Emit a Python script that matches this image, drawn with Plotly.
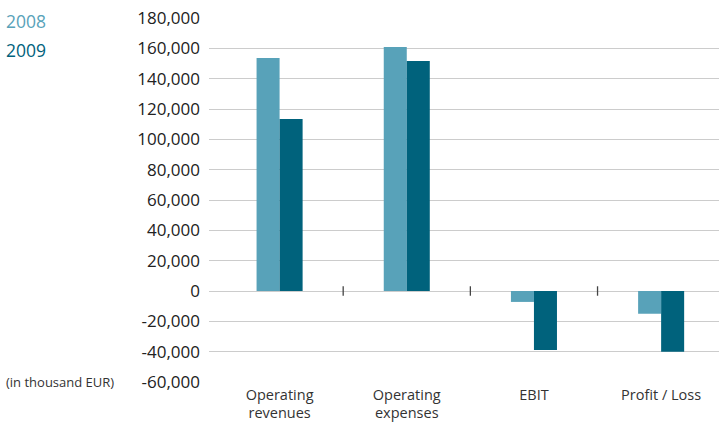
import plotly.graph_objects as go

categories = ["Operating<br>revenues", "Operating<br>expenses", "EBIT", "Profit / Loss"]
values_2008 = [153600, 160900, -7200, -15000]
values_2009 = [113400, 151600, -38900, -40000]
y_ticks = [-60000, -40000, -20000, 0, 20000, 40000, 60000, 80000,
           100000, 120000, 140000, 160000, 180000]

color_2008 = "#58A2B9"
color_2009 = "#00627C"
font_family = "Open Sans, Noto Sans, sans-serif"

fig = go.Figure()
fig.add_trace(go.Bar(name="2008", x=categories, y=values_2008,
                     marker=dict(color=color_2008, line=dict(width=0))))
fig.add_trace(go.Bar(name="2009", x=categories, y=values_2009,
                     marker=dict(color=color_2009, line=dict(width=0))))

# small separators between the categories, sitting on the zero line
for b in [0.5, 1.5, 2.5]:
    fig.add_shape(type="line", xref="x", yref="paper", x0=b, x1=b,
                  y0=0.237, y1=0.263, line=dict(color="#444444", width=1.3))

fig.add_annotation(text="2008", xref="paper", yref="paper", x=-0.401, y=0.992,
                   xanchor="left", yanchor="middle", showarrow=False,
                   font=dict(size=17.5, color=color_2008, family=font_family))
fig.add_annotation(text="2009", xref="paper", yref="paper", x=-0.401, y=0.912,
                   xanchor="left", yanchor="middle", showarrow=False,
                   font=dict(size=17.5, color=color_2009, family=font_family))
fig.add_annotation(text="(in thousand EUR)", xref="paper", yref="paper", x=-0.401, y=0.0,
                   xanchor="left", yanchor="middle", showarrow=False,
                   font=dict(size=13, color="#333333", family=font_family))

fig.update_layout(
    width=719, height=422,
    margin=dict(l=209, r=0, t=18, b=40),
    paper_bgcolor="white", plot_bgcolor="white",
    barmode="group", bargap=0.638, bargroupgap=0,
    showlegend=False,
    font=dict(family=font_family, color="#333333"),
    xaxis=dict(range=[-0.555, 3.455], showgrid=False, showline=False, ticks="",
               ticklabelstandoff=2, automargin=False,
               tickfont=dict(size=14.5, color="#333333")),
    yaxis=dict(range=[-60000, 180000], tickvals=y_ticks,
               ticktext=[f"{v:,}" for v in y_ticks],
               showgrid=True, gridcolor="#cccccc", gridwidth=1.3,
               zeroline=True, zerolinecolor="#cccccc", zerolinewidth=1.3,
               showline=False, ticks="", ticklabelstandoff=8, automargin=False,
               tickfont=dict(size=17, color="#222222")),
)

fig.write_html("out.html")
